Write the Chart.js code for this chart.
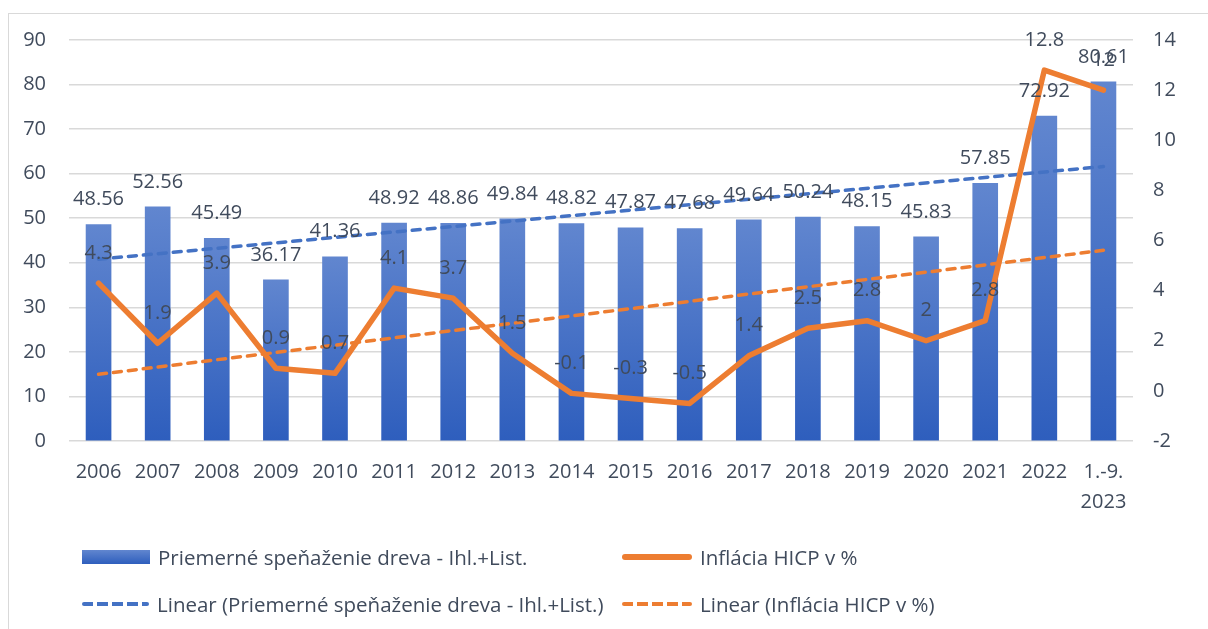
<!DOCTYPE html>
<html>
<head>
<meta charset="utf-8">
<script src="https://cdn.jsdelivr.net/npm/chart.js@4.4.0/dist/chart.umd.min.js"></script>
<style>
  html, body { margin:0; padding:0; background:#fff; width:1208px; height:629px; overflow:hidden; }
  #frame { position:absolute; left:8px; top:13px; width:1230px; height:650px; border:1.5px solid #D9D9D9; box-sizing:border-box; }
  #wrap { position:absolute; left:0; top:0; width:1208px; height:530px; }
  #legend { position:absolute; left:0; top:0; width:1208px; height:629px; font-family:"Open Sans", sans-serif; font-size:20.5px; color:#404B5C; pointer-events:none; }
  .item { position:absolute; display:flex; align-items:center; white-space:nowrap; height:30px; }
  .sw { display:inline-block; margin-right:8px; }
</style>
</head>
<body>
<div id="frame"></div>
<div id="wrap"><canvas id="c"></canvas></div>
<div id="legend"></div>
<script>
// ---- data ----
const categories = ['2006','2007','2008','2009','2010','2011','2012','2013','2014','2015','2016','2017','2018','2019','2020','2021','2022',['1.-9.','2023']];
const woodPrice = [48.56,52.56,45.49,36.17,41.36,48.92,48.86,49.84,48.82,47.87,47.68,49.64,50.24,48.15,45.83,57.85,72.92,80.61];
const inflation = [4.3,1.9,3.9,0.9,0.7,4.1,3.7,1.5,-0.1,-0.3,-0.5,1.4,2.5,2.8,2,2.8,12.8,12];
const woodTrendEnds = [40.8, 61.6];      // linear trend at first / last category
const inflTrendEnds = [0.66, 5.61];
const leftTicks = [0, 90, 10];          // min, max, step
const rightTicks = [-2, 14, 2];
const seriesNames = ['Priemerné speňaženie dreva - Ihl.+List.', 'Inflácia HICP v %',
                     'Linear (Priemerné speňaženie dreva - Ihl.+List.)', 'Linear (Inflácia HICP v %)'];

const BLUE = '#4472C4', ORANGE = '#ED7D31', TEXT = '#404B5C', GRID = '#D9D9D9';
const FONT = '"Open Sans", sans-serif';

function trendData(ends) {
  return categories.map((_, i) => i === 0 ? ends[0] : (i === categories.length - 1 ? ends[1] : null));
}

const labelPlugin = {
  id: 'valueLabels',
  afterDatasetsDraw(chart) {
    const ctx = chart.ctx;
    ctx.save();
    ctx.font = '20px ' + FONT;
    ctx.fillStyle = TEXT;
    ctx.textAlign = 'center';
    ctx.textBaseline = 'middle';
    chart.getDatasetMeta(0).data.forEach((el, i) => ctx.fillText(String(woodPrice[i]), el.x, el.y - 25));
    chart.getDatasetMeta(1).data.forEach((el, i) => ctx.fillText(String(inflation[i]), el.x, el.y - 30));
    ctx.restore();
  }
};

function barGradient(c) {
  const chart = c.chart;
  if (!chart.chartArea || c.type !== 'data') return BLUE;
  const y = chart.scales.y;
  const top = y.getPixelForValue(c.raw), base = y.getPixelForValue(0);
  const g = chart.ctx.createLinearGradient(0, top, 0, base);
  g.addColorStop(0, '#6186CF');
  g.addColorStop(1, '#2E5EBD');
  return g;
}

new Chart(document.getElementById('c'), {
  type: 'bar',
  data: {
    labels: categories,
    datasets: [
      { type:'bar', label: seriesNames[0], data: woodPrice, backgroundColor: barGradient, borderWidth:0,
        barThickness: 25, yAxisID:'y', order:3 },
      { type:'line', label: seriesNames[1], data: inflation, borderColor: ORANGE, borderWidth:5.5,
        pointRadius:0, tension:0, borderJoinStyle:'round', borderCapStyle:'round', yAxisID:'y1', order:0 },
      { type:'line', label: seriesNames[2], data: trendData(woodTrendEnds), borderColor: BLUE, borderWidth:3.5,
        borderDash:[8,7], borderCapStyle:'round', pointRadius:0, spanGaps:true, yAxisID:'y', order:1 },
      { type:'line', label: seriesNames[3], data: trendData(inflTrendEnds), borderColor: ORANGE, borderWidth:3.5,
        borderDash:[8,7], borderCapStyle:'round', pointRadius:0, spanGaps:true, yAxisID:'y1', order:2 }
    ]
  },
  options: {
    responsive:true, maintainAspectRatio:false, animation:false,
    layout:{ padding:{ top:40, left:0, right:0, bottom:0 } },
    plugins:{ legend:{ display:false }, tooltip:{ enabled:false } },
    scales:{
      x:{ grid:{ display:false }, border:{ display:false },
          ticks:{ color:TEXT, font:{ family:FONT, size:20, lineHeight:1.5 }, padding:8, maxRotation:0, autoSkip:false },
          afterFit(s){ s.height = 89; } },
      y:{ position:'left', min:leftTicks[0], max:leftTicks[1],
          grid:{ color:GRID, lineWidth:1.5, drawTicks:false }, border:{ display:false },
          ticks:{ stepSize:leftTicks[2], color:TEXT, font:{ family:FONT, size:20 }, padding:23 },
          afterFit(s){ s.width = 69; } },
      y1:{ position:'right', min:rightTicks[0], max:rightTicks[1],
          grid:{ display:false, drawTicks:false }, border:{ display:false },
          ticks:{ stepSize:rightTicks[2], color:TEXT, font:{ family:FONT, size:20 }, padding:20 },
          afterFit(s){ s.width = 75; } }
    }
  },
  plugins:[labelPlugin]
});

// ---- HTML legend ----
const legend = document.getElementById('legend');
const legendItems = [
  { name: seriesNames[0], x:82,  y:557, sw:'width:68px;height:14px;background:linear-gradient(#6186CF,#2E5EBD);' },
  { name: seriesNames[1], x:622, y:557, sw:'width:70px;height:6px;border-radius:3px;background:' + ORANGE + ';' },
  { name: seriesNames[2], x:82,  y:604, sw:'width:67px;height:4px;border-radius:2px;background:repeating-linear-gradient(to right,' + BLUE + ' 0 11px,transparent 11px 15px);' },
  { name: seriesNames[3], x:622, y:604, sw:'width:70px;height:4px;border-radius:2px;background:repeating-linear-gradient(to right,' + ORANGE + ' 0 11px,transparent 11px 15px);' }
];
legendItems.forEach(it => {
  const d = document.createElement('div');
  d.className = 'item';
  d.style.left = it.x + 'px';
  d.style.top = (it.y - 15) + 'px';
  d.innerHTML = '<span class="sw" style="' + it.sw + '"></span><span></span>';
  d.lastChild.textContent = it.name;
  legend.appendChild(d);
});
</script>
</body>
</html>
